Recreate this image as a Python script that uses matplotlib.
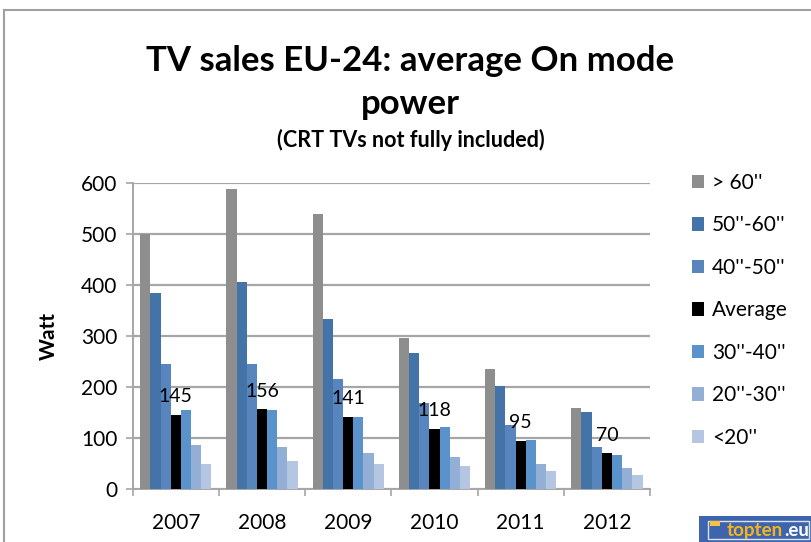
import numpy as np
import matplotlib.pyplot as plt
from matplotlib.lines import Line2D
from matplotlib.patches import Rectangle

# ---------------------------------------------------------------------------
# Data (Watt)
# ---------------------------------------------------------------------------

YEARS = ["2007", "2008", "2009", "2010", "2011", "2012"]

SERIES = ["> 60''", "50''-60''", "40''-50''", "Average", "30''-40''", "20''-30''", "<20''"]

GT60    = [500, 587, 539, 295, 236, 159]
S50_60  = [384, 405, 333, 266, 201, 150]
S40_50  = [244, 245, 215, 168, 125, 83]
AVERAGE = [145, 156, 141, 118, 95, 70]
S30_40  = [155, 155, 142, 121, 96, 66]
S20_30  = [87, 83, 70, 62, 49, 41]
LT20    = [49, 54, 49, 45, 36, 28]

VALUES = [GT60, S50_60, S40_50, AVERAGE, S30_40, S20_30, LT20]

# ---------------------------------------------------------------------------
# Style
# ---------------------------------------------------------------------------

COLORS = ["#8E8E8E", "#4473A7", "#5885BD", "#000000", "#5A93CB", "#93AFD6", "#B4C6E1"]
GRID = "#A6A6A6"
plt.rcParams["font.family"] = ["Lato", "DejaVu Sans"]

fig = plt.figure(figsize=(8.11, 5.42), dpi=100)
ax = fig.add_axes([0.1636, 0.0978, 0.8015 - 0.1636, 0.6627 - 0.0978])

x = np.arange(len(YEARS))
BAR_W = 0.118

for i, (name, vals, col) in enumerate(zip(SERIES, VALUES, COLORS)):
    ax.bar(x + (i - 3) * BAR_W, vals, width=BAR_W, color=col,
           edgecolor="none", label=name, zorder=3)

# average labels
for xi, val in zip(x, AVERAGE):
    ax.annotate(f"{val}", (xi, val), xytext=(0, 7), textcoords="offset points",
                ha="center", va="bottom", fontsize=14, zorder=4)

ax.set_xlim(-0.5, len(YEARS) - 0.5)
ax.set_ylim(0, 600)
ax.set_yticks(np.arange(0, 601, 100))
ax.yaxis.grid(True, color=GRID, linewidth=1.6, zorder=0)
ax.set_axisbelow(True)

ax.set_xticks(x)
ax.set_xticklabels(YEARS, fontsize=15)
ax.set_xticks(np.arange(-0.5, len(YEARS)), minor=True)
ax.tick_params(axis="x", which="major", length=0, pad=17)
ax.tick_params(axis="x", which="minor", length=5, color=GRID, width=1.2)
ax.tick_params(axis="y", labelsize=15, length=5, color=GRID, width=1.2, pad=6)

for s in ["top", "right"]:
    ax.spines[s].set_visible(False)
for s in ["left", "bottom"]:
    ax.spines[s].set_color(GRID)
    ax.spines[s].set_linewidth(1.4)

ax.set_ylabel("Watt", fontsize=15, fontweight="bold", labelpad=16)

# legend
ax.legend(loc="upper left", bbox_to_anchor=(1.065, 1.06), frameon=False,
          fontsize=15, handlelength=0.6, handleheight=0.6, handletextpad=0.35,
          labelspacing=1.08, borderaxespad=0)

# titles
fig.text(0.506, 0.888, "TV sales EU-24: average On mode", ha="center", va="center",
         fontsize=25, fontweight="bold")
fig.text(0.506, 0.808, "power", ha="center", va="center",
         fontsize=25, fontweight="bold")
fig.text(0.506, 0.742, "(CRT TVs not fully included)", ha="center", va="center",
         fontsize=15.5, fontweight="bold")

# chart border
fig.add_artist(Line2D([0.005, 0.005], [0, 0.982], color="#A0A0A0", lw=1.5))
fig.add_artist(Line2D([0.005, 1], [0.982, 0.982], color="#A0A0A0", lw=1.5))

# topten logo
fig.add_artist(Rectangle((0.862, 0.0), 0.14, 0.048, facecolor="#3E64AE",
                         edgecolor="none", transform=fig.transFigure))
fig.add_artist(Rectangle((0.873, 0.006), 0.125, 0.032, facecolor="none",
                         edgecolor="#DCE3F0", lw=1, transform=fig.transFigure))
fig.add_artist(Rectangle((0.876, 0.030), 0.012, 0.008, facecolor="#F6C43C",
                         edgecolor="none", transform=fig.transFigure))
fig.text(0.896, 0.021, "topten", color="#F6B41C", fontsize=13.5, fontweight="bold",
         ha="left", va="center")
fig.text(0.967, 0.021, ".eu", color="white", fontsize=13.5, fontweight="bold",
         ha="left", va="center")

plt.savefig("out.png", dpi=100)
